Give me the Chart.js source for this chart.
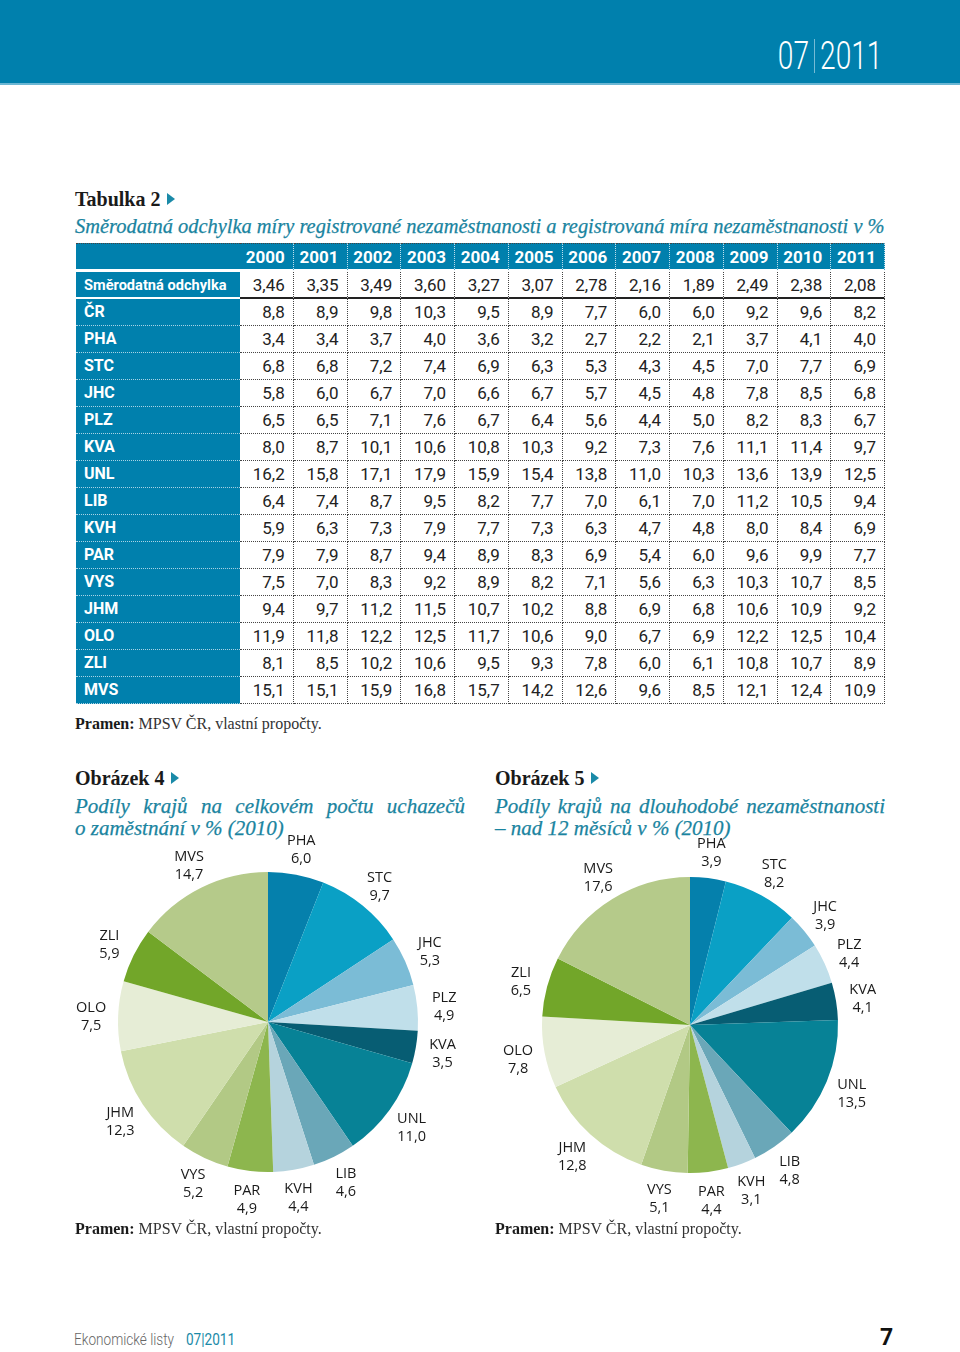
<!DOCTYPE html>
<html><head><meta charset="utf-8">
<script src="https://cdn.jsdelivr.net/npm/chart.js@4.4.1/dist/chart.umd.min.js"></script>
<style>
body{margin:0;width:960px;height:1352px;position:relative;background:#fff;overflow:hidden;font-family:'Liberation Serif',serif;color:#222}
.abs{position:absolute;white-space:nowrap}
#band{left:0;top:0;width:960px;height:83px;background:#0080ad;border-bottom:2px solid #6cb7d4}
#issue{right:78px;top:34px;font-family:Roboto;font-weight:300;font-size:38px;color:#fff;line-height:44px;transform:scaleX(.74);transform-origin:right center}
#issue .sep{display:inline-block;width:1px;height:34px;background:#9fd0e4;margin:0 7px;vertical-align:-4px}
.h{font-weight:bold;font-size:20px;line-height:24px;color:#1a1a1a}
.tri{display:inline-block;width:0;height:0;border-top:6px solid transparent;border-bottom:6px solid transparent;border-left:8px solid #1a8aa8;margin-left:7px;vertical-align:1px}
.sub{font-style:italic;font-size:21px;line-height:22px;color:#1a84a0;-webkit-text-stroke:0.25px #1a84a0}
.src{font-size:16px;line-height:20px;color:#333}
.src b{color:#1a1a1a}
.cell{position:absolute;box-sizing:border-box;font-family:Roboto;font-size:17px;text-align:right;padding-right:8px;border-right:1px dotted #444;border-bottom:1px dotted #444;color:#222;white-space:nowrap}
.cell.blue{background:#0080ad;color:#fff;font-weight:bold;border-right:1px dotted #bfe0ee;border-bottom:1px dotted #a9d3e5}
.cell.lab{text-align:left;padding-left:8px;border-right:none;font-size:16px}
.j{display:block;width:390px;text-align:justify;text-align-last:justify;white-space:normal}
canvas{position:absolute}
#foot1{left:74px;top:1330px;font-family:Roboto;font-weight:300;font-size:16px;color:#666;line-height:20px;transform:scaleX(.85);transform-origin:left center}
#foot1 span{color:#1a8aa8;font-weight:400;margin-left:14px}
#pg{left:880px;top:1325px;font-family:Roboto;font-weight:bold;font-size:23px;color:#111;line-height:26px}
</style></head>
<body>
<div id="band" class="abs"></div>
<div id="issue" class="abs">07<span class="sep"></span>2011</div>

<div class="abs h" style="left:75px;top:187px">Tabulka 2<span class="tri"></span></div>
<div id="tsub" class="abs sub" style="left:75px;top:215px">Směrodatná odchylka míry registrované nezaměstnanosti a registrovaná míra nezaměstnanosti v %</div>
<div id="table"></div>
<div class="abs src" style="left:75px;top:714px"><b>Pramen:</b> MPSV ČR, vlastní propočty.</div>

<div class="abs h" style="left:75px;top:766px">Obrázek 4<span class="tri"></span></div>
<div class="abs sub" style="left:75px;top:795px"><span class="j">Podíly krajů na celkovém počtu uchazečů</span>o zaměstnání v % (2010)</div>
<div class="abs h" style="left:495px;top:766px">Obrázek 5<span class="tri"></span></div>
<div class="abs sub" style="left:495px;top:795px"><span class="j">Podíly krajů na dlouhodobé nezaměstnanosti</span>– nad 12 měsíců v % (2010)</div>

<canvas id="pie1" width="400" height="420" style="left:70px;top:820px"></canvas>
<canvas id="pie2" width="400" height="420" style="left:490px;top:820px"></canvas>

<div class="abs src" style="left:75px;top:1219px"><b>Pramen:</b> MPSV ČR, vlastní propočty.</div>
<div class="abs src" style="left:495px;top:1219px"><b>Pramen:</b> MPSV ČR, vlastní propočty.</div>

<div id="foot1" class="abs">Ekonomické listy<span>07|2011</span></div>
<div id="pg" class="abs">7</div>

<script>
// ---------- Table data ----------
const years = ['2000','2001','2002','2003','2004','2005','2006','2007','2008','2009','2010','2011'];
const rowLabels = ['Směrodatná odchylka','ČR','PHA','STC','JHC','PLZ','KVA','UNL','LIB','KVH','PAR','VYS','JHM','OLO','ZLI','MVS'];
const sdRow  = [3.46,3.35,3.49,3.60,3.27,3.07,2.78,2.16,1.89,2.49,2.38,2.08];
const crRow  = [8.8,8.9,9.8,10.3,9.5,8.9,7.7,6.0,6.0,9.2,9.6,8.2];
const phaRow = [3.4,3.4,3.7,4.0,3.6,3.2,2.7,2.2,2.1,3.7,4.1,4.0];
const stcRow = [6.8,6.8,7.2,7.4,6.9,6.3,5.3,4.3,4.5,7.0,7.7,6.9];
const jhcRow = [5.8,6.0,6.7,7.0,6.6,6.7,5.7,4.5,4.8,7.8,8.5,6.8];
const plzRow = [6.5,6.5,7.1,7.6,6.7,6.4,5.6,4.4,5.0,8.2,8.3,6.7];
const kvaRow = [8.0,8.7,10.1,10.6,10.8,10.3,9.2,7.3,7.6,11.1,11.4,9.7];
const unlRow = [16.2,15.8,17.1,17.9,15.9,15.4,13.8,11.0,10.3,13.6,13.9,12.5];
const libRow = [6.4,7.4,8.7,9.5,8.2,7.7,7.0,6.1,7.0,11.2,10.5,9.4];
const kvhRow = [5.9,6.3,7.3,7.9,7.7,7.3,6.3,4.7,4.8,8.0,8.4,6.9];
const parRow = [7.9,7.9,8.7,9.4,8.9,8.3,6.9,5.4,6.0,9.6,9.9,7.7];
const vysRow = [7.5,7.0,8.3,9.2,8.9,8.2,7.1,5.6,6.3,10.3,10.7,8.5];
const jhmRow = [9.4,9.7,11.2,11.5,10.7,10.2,8.8,6.9,6.8,10.6,10.9,9.2];
const oloRow = [11.9,11.8,12.2,12.5,11.7,10.6,9.0,6.7,6.9,12.2,12.5,10.4];
const zliRow = [8.1,8.5,10.2,10.6,9.5,9.3,7.8,6.0,6.1,10.8,10.7,8.9];
const mvsRow = [15.1,15.1,15.9,16.8,15.7,14.2,12.6,9.6,8.5,12.1,12.4,10.9];

// ---------- Pie data ----------
const regions = ['PHA','STC','JHC','PLZ','KVA','UNL','LIB','KVH','PAR','VYS','JHM','OLO','ZLI','MVS'];
const applicantsShare = [6.0,9.7,5.3,4.9,3.5,11.0,4.6,4.4,4.9,5.2,12.3,7.5,5.9,14.7];
const longTermShare   = [3.9,8.2,3.9,4.4,4.1,13.5,4.8,3.1,4.4,5.1,12.8,7.8,6.5,17.6];
const regionColors = ['#0580ac','#0aa0c5','#7bbcd6','#c0dfea','#075d73','#078296','#6aa7b8','#b5d3dd','#8db64e','#b2c985','#cfdeac','#e6edd6','#72a629','#b5ca8a'];

const fmt = (v, d) => v.toFixed(d).replace('.', ',');

// ---------- Build table ----------
(function(){
  const host = document.getElementById('table');
  const rows = [sdRow,crRow,phaRow,stcRow,jhcRow,plzRow,kvaRow,unlRow,libRow,kvhRow,parRow,vysRow,jhmRow,oloRow,zliRow,mvsRow];
  const L = 76, labW = 164, colW = 53.75, top = 243, hdH = 28, rowH = 27, dataTop = 272;
  function cell(x, y, w, h, txt, cls, extra){
    const d = document.createElement('div');
    d.className = 'cell ' + (cls||'');
    d.style.left = x + 'px'; d.style.top = y + 'px';
    d.style.width = w + 'px'; d.style.height = h + 'px';
    d.style.lineHeight = (h - 1) + 'px';
    d.textContent = txt;
    if (extra) Object.assign(d.style, extra);
    host.appendChild(d);
  }
  // header
  cell(L, top, labW, hdH, '', 'blue lab', {borderTop:'1px dotted #444', borderBottom:'2px solid #fff', lineHeight:'26px'});
  years.forEach((y, j) => cell(L + labW + j*colW, top, colW, hdH, y, 'blue', {borderTop:'1px dotted #444', borderBottom:'2px solid #fff', lineHeight:'26px'}));
  rows.forEach((r, i) => {
    const y = dataTop + i*rowH;
    const ex = i === 0 ? {borderBottom:'2px solid #fff', fontSize:'14.6px'} : null;
    cell(L, y, labW, rowH, rowLabels[i], 'blue lab', ex);
    r.forEach((v, j) => cell(L + labW + j*colW, y, colW, rowH, fmt(v, i === 0 ? 2 : 1), '', i === 0 ? {borderBottom:'2px solid #222'} : null));
  });
})();

// fit table subtitle to width
(function(){
  const el = document.getElementById('tsub');
  const w = el.getBoundingClientRect().width;
  el.style.fontSize = (21 * 810 / w) + 'px';
})();

// ---------- Pies ----------
const outLabels = {
  id: 'outLabels',
  afterDraw(chart){
    const ctx = chart.ctx, meta = chart.getDatasetMeta(0), ds = chart.data.datasets[0];
    ctx.save();
    ctx.font = '14.5px "Open Sans"';
    ctx.fillStyle = '#1a1a1a';
    ctx.textAlign = 'center';
    ctx.textBaseline = 'middle';
    meta.data.forEach((arc, i) => {
      const p = arc.getProps(['x','y','startAngle','endAngle','outerRadius'], true);
      const a = (p.startAngle + p.endAngle) / 2;
      const r = p.outerRadius + 27;
      const x = p.x + Math.cos(a) * r, y = p.y + Math.sin(a) * r + 2;
      ctx.fillText(chart.data.labels[i], x, y - 9);
      ctx.fillText(fmt(ds.data[i], 1), x, y + 9);
    });
    ctx.restore();
  }
};
function makePie(id, values, padding){
  new Chart(document.getElementById(id), {
    type: 'pie',
    data: { labels: regions, datasets: [{ data: values, backgroundColor: regionColors, borderWidth: 0 }] },
    options: {
      responsive: false, animation: false,
      layout: { padding },
      plugins: { legend: { display: false }, tooltip: { enabled: false } }
    },
    plugins: [outLabels]
  });
}
makePie('pie1', applicantsShare, {left:48, right:52, top:52, bottom:68});
makePie('pie2', longTermShare,   {left:52, right:52, top:57, bottom:67});
</script>
</body></html>
